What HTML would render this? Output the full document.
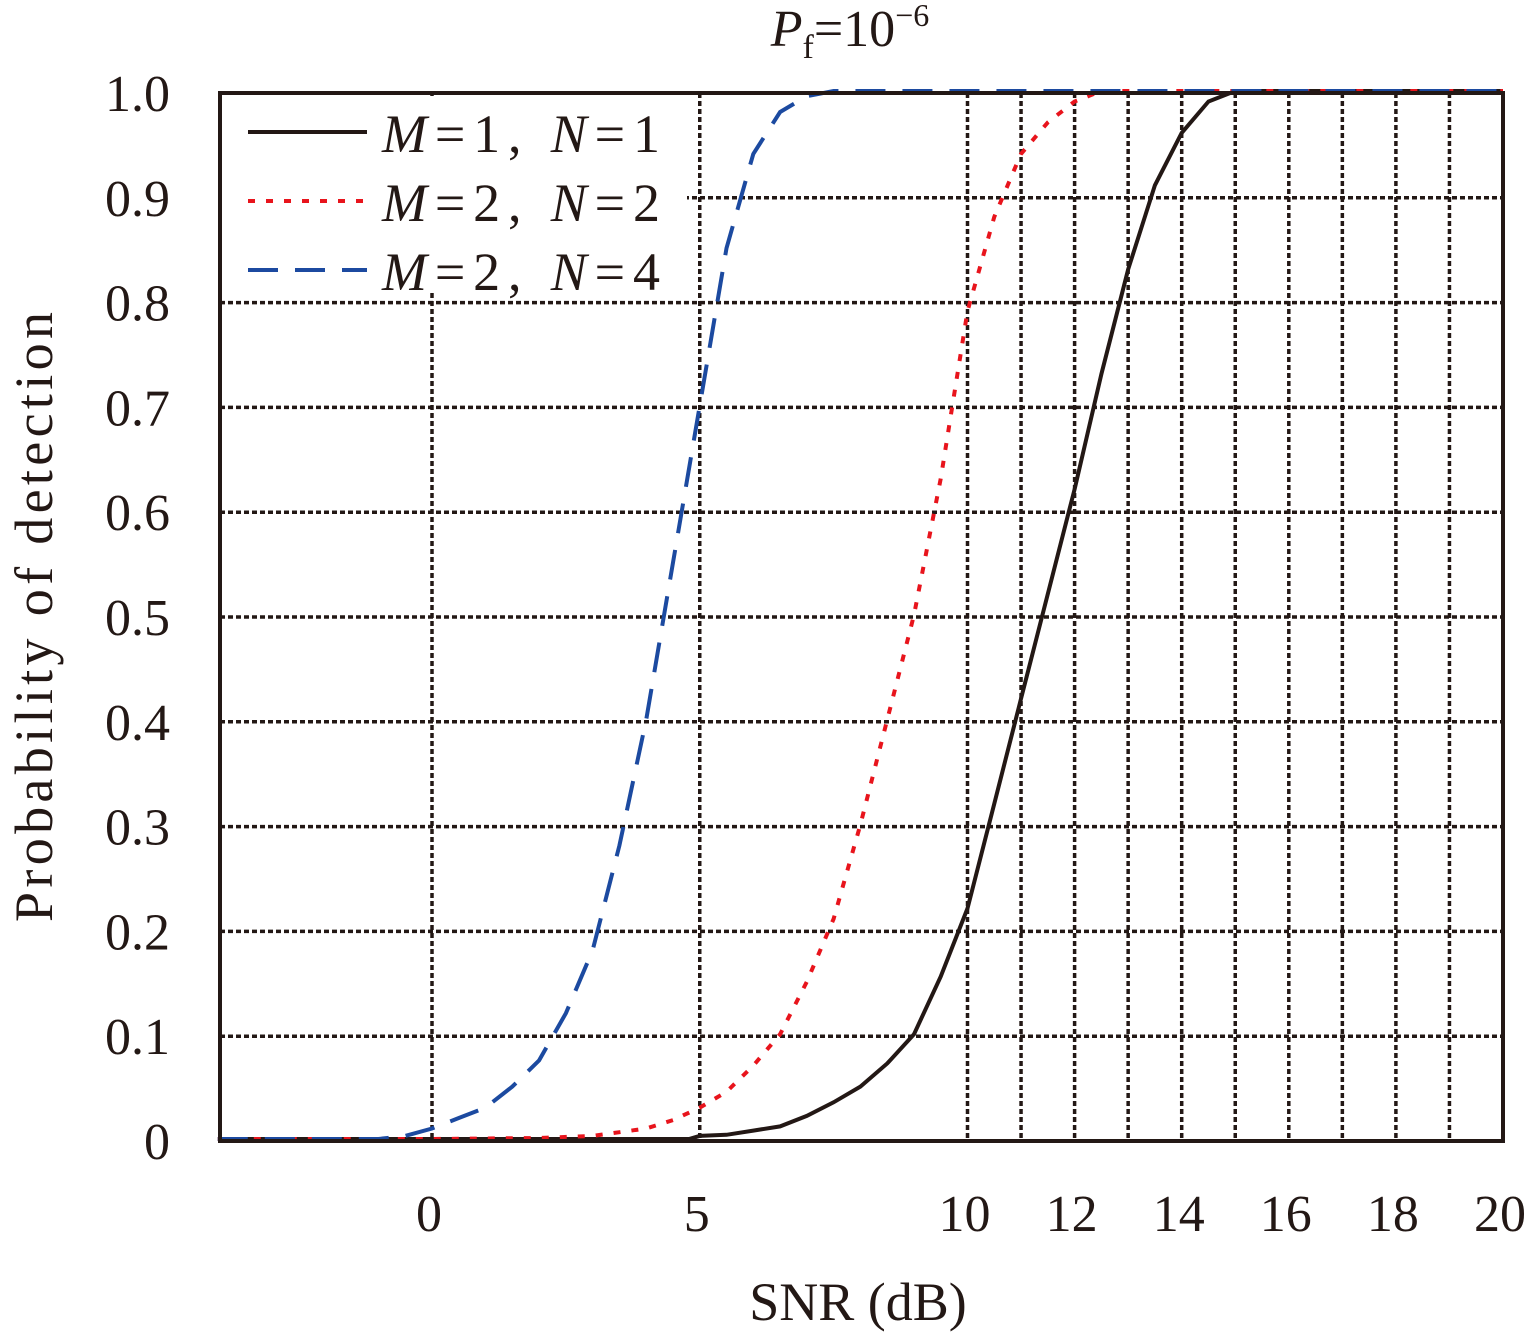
<!DOCTYPE html>
<html><head><meta charset="utf-8"><style>
html,body{margin:0;padding:0;background:#fff}
svg{display:block;font-family:"Liberation Serif",serif}
</style></head><body>
<svg id="chart" width="1535" height="1339" viewBox="0 0 1535 1339">
<g id="grid"></g>
<g id="series"></g>
<rect x="221" y="96" width="466" height="194" fill="#fff"/>
<rect x="220" y="93" width="1283" height="1048" fill="none" stroke="#231815" stroke-width="4"/>
<g id="ticks"></g>
<g font-size="54" fill="#231815">
 <g><line x1="248" y1="132" x2="367" y2="132" stroke="#231815" stroke-width="4"/><text x="382" y="152" textLength="278"><tspan font-style="italic">M</tspan>=1, <tspan font-style="italic">N</tspan>=1</text></g>
 <g><line x1="248" y1="201" x2="367" y2="201" stroke="#e8141c" stroke-width="4" stroke-dasharray="7,11"/><text x="382" y="221" textLength="278"><tspan font-style="italic">M</tspan>=2, <tspan font-style="italic">N</tspan>=2</text></g>
 <g><line x1="248" y1="270" x2="367" y2="270" stroke="#1c4aa0" stroke-width="4" stroke-dasharray="30,17"/><text x="382" y="290" textLength="278"><tspan font-style="italic">M</tspan>=2, <tspan font-style="italic">N</tspan>=4</text></g>
</g>
<text x="850" y="46" font-size="52" text-anchor="middle" fill="#231815"><tspan font-style="italic">P</tspan><tspan font-size="34" dy="12">f</tspan><tspan dy="-12">=10</tspan><tspan font-size="32" dy="-20">−6</tspan></text>
<text x="858" y="1320" font-size="54" text-anchor="middle" fill="#231815">SNR (dB)</text>
<text transform="translate(52,617) rotate(-90)" font-size="54" text-anchor="middle" fill="#231815" textLength="610">Probability of detection</text>
</svg>
<script>
const xGrid=[0,5,10,11,12,13,14,15,16,17,18,19,20];
const xLabels=[0,5,10,12,14,16,18,20];
const yTicks=[0,0.1,0.2,0.3,0.4,0.5,0.6,0.7,0.8,0.9,1.0];
const yLabels=["0","0.1","0.2","0.3","0.4","0.5","0.6","0.7","0.8","0.9","1.0"];
const snrA=[-4,-2,0,2,4,4.8,5,5.5,6,6.5,7,7.5,8,8.5,9,9.5,10,10.5,11,11.5,12,12.5,13,13.5,14,14.5,15,20];
const pdA=[0,0,0,0,0,0,0.003,0.004,0.008,0.012,0.022,0.035,0.05,0.072,0.1,0.155,0.22,0.32,0.42,0.52,0.62,0.73,0.83,0.91,0.96,0.99,1,1];
const snrB=[-4,0,2,3,4,4.5,5,5.5,6,6.5,7,7.5,8,8.5,9,9.5,10,10.5,11,11.5,12,12.5,20];
const pdB=[0,0,0.001,0.003,0.01,0.018,0.03,0.045,0.07,0.1,0.15,0.21,0.3,0.4,0.5,0.63,0.79,0.88,0.94,0.97,0.99,1,1];
const snrC=[-4,-1,-0.5,0,0.5,1,1.5,2,2.5,3,3.5,4,4.5,5,5.5,6,6.5,7,7.5,20];
const pdC=[0,0,0.003,0.01,0.02,0.03,0.05,0.075,0.12,0.18,0.28,0.4,0.55,0.7,0.85,0.94,0.98,0.995,1,1];
const NS='http://www.w3.org/2000/svg';
const xS=v=>432+(v)*53.55, yS=v=>1141-v*1048;
function mk(t,a,p){const e=document.createElementNS(NS,t);for(const k in a)e.setAttribute(k,a[k]);p.appendChild(e);return e;}
const grid=document.getElementById('grid'),ticks=document.getElementById('ticks'),series=document.getElementById('series');
xGrid.forEach(v=>{const l=mk('line',{x1:xS(v),x2:xS(v),y1:93,y2:1141,stroke:'#231815','stroke-width':3.5,'stroke-dasharray':'5,3'},grid);

});
yTicks.forEach((v,i)=>{const l=mk('line',{x1:220,x2:1503,y1:yS(v),y2:yS(v),stroke:'#231815','stroke-width':3.5,'stroke-dasharray':'5,3'},grid);


const t=mk('text',{x:170,y:yS(v)+18,'font-size':52,'text-anchor':'end',fill:'#231815'},ticks);t.textContent=yLabels[i];

});
xLabels.forEach(v=>{const t=mk('text',{x:xS(v)-3,y:1231,'font-size':52,'text-anchor':'middle',fill:'#231815'},ticks);t.textContent=v;

});
function line(xs,ys,color,dash,name){const d=xs.map((x,i)=>(i?'L':'M')+xS(x).toFixed(1)+','+(yS(ys[i])-2).toFixed(1)).join('');
const p=mk('path',{d:d,fill:'none',stroke:color,'stroke-width':4,'stroke-dasharray':dash},series);

}
line(snrA,pdA,'#231815','none','series-m1-n1');
line(snrB,pdB,'#e8141c','7,11','series-m2-n2');
line(snrC,pdC,'#1c4aa0','30,17','series-m2-n4');
</script>
</body></html>
